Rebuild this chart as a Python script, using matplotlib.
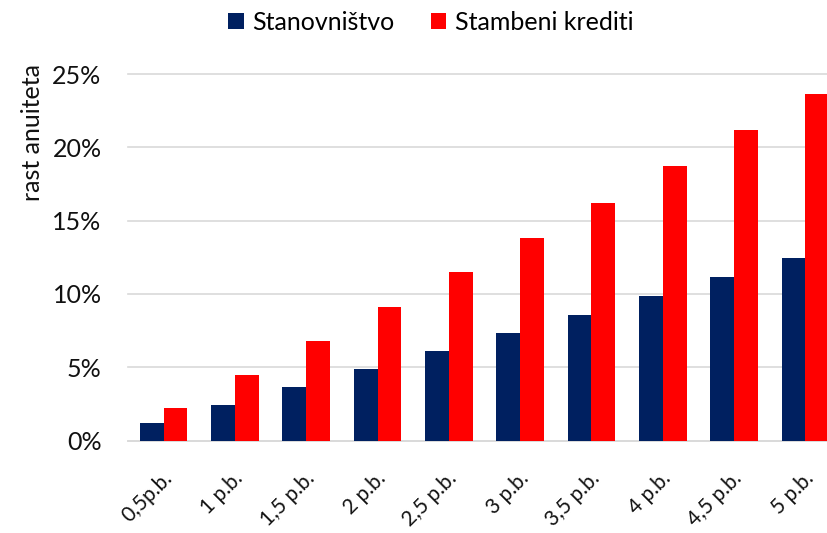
import matplotlib
matplotlib.use("Agg")
import matplotlib.pyplot as plt
import matplotlib.transforms as mtransforms
import numpy as np

categories = ["0,5p.b.", "1 p.b.", "1,5 p.b.", "2 p.b.", "2,5 p.b.", "3 p.b.",
              "3,5 p.b.", "4 p.b.", "4,5 p.b.", "5 p.b."]
stanovnistvo = [1.16, 2.39, 3.62, 4.85, 6.08, 7.31, 8.55, 9.84, 11.13, 12.43]
stambeni = [2.19, 4.44, 6.76, 9.08, 11.48, 13.82, 16.19, 18.70, 21.17, 23.63]
yticks = [0, 5, 10, 15, 20, 25]
ytick_labels = ["0%", "5%", "10%", "15%", "20%", "25%"]

plt.rcParams['font.family'] = ['Lato', 'DejaVu Sans']
FS = 18

fig = plt.figure(figsize=(8.28, 5.33), dpi=100)
ax = fig.add_axes([128/828, (533-440.5)/533, (841-128)/828, 366.5/533])

x = np.arange(len(categories))
w = 1/3
ax.bar(x - w/2, stanovnistvo, width=w, color="#002060", label="Stanovništvo", zorder=3)
ax.bar(x + w/2, stambeni, width=w, color="#FF0000", label="Stambeni krediti", zorder=3)

ax.set_xlim(-0.5, len(categories) - 0.5)
ax.set_ylim(0, 25)
ax.set_yticks(yticks)
ax.set_yticklabels(ytick_labels, fontsize=FS, color="#111111")
ax.set_xticks(x)
ax.set_xticklabels(categories, fontsize=15, rotation=45, ha="right",
                   rotation_mode="anchor", va="center", color="#111111")
ax.tick_params(axis="both", length=0)
ax.tick_params(axis="y", pad=19)
ax.tick_params(axis="x", pad=25)
offset = mtransforms.ScaledTranslation(5/100, 0, fig.dpi_scale_trans)
for lbl in ax.get_xticklabels():
    lbl.set_transform(lbl.get_transform() + offset)

ax.grid(axis="y", color="#D9D9D9", linewidth=1.2, zorder=0)
for s in ["top", "right", "left"]:
    ax.spines[s].set_visible(False)
ax.spines["bottom"].set_color("#D9D9D9")
ax.spines["bottom"].set_linewidth(1.2)
for gl in ax.get_ygridlines():
    gl.set_clip_on(False)

fig.text(33/828, 1 - 133/533, "rast anuiteta", rotation=90, fontsize=FS,
         ha="center", va="center", color="#111111")

fig.legend(loc="center", bbox_to_anchor=(431/828, 1 - 22/533), ncol=2, frameon=False,
           fontsize=FS, handlelength=0.62, handleheight=0.62, handletextpad=0.35,
           columnspacing=1.45)

fig.savefig("out.png", dpi=100)
